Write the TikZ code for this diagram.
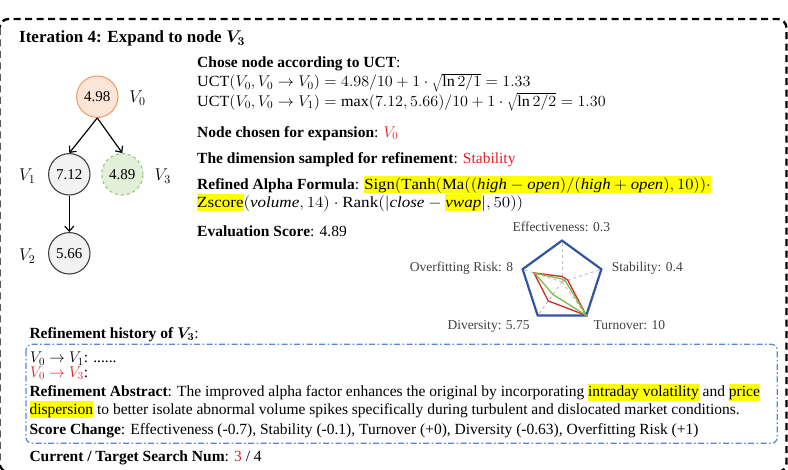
\RequirePackage{fix-cm}
\documentclass[tikz,border=0pt]{standalone}
\usepackage{fontspec}
\usepackage{graphicx}
\setmainfont{Liberation Serif}
\usetikzlibrary{arrows.meta}
\definecolor{hlred}{RGB}{232,32,38}
\definecolor{orfill}{RGB}{251,229,214}
\definecolor{ordraw}{RGB}{240,160,110}
\definecolor{grfill}{RGB}{226,240,217}
\definecolor{grdraw}{RGB}{150,200,120}
\definecolor{gyfill}{RGB}{242,242,242}
\definecolor{gydraw}{RGB}{64,64,64}
\definecolor{pentblue}{RGB}{47,85,164}
\definecolor{polyred}{RGB}{214,39,40}
\definecolor{polygreen}{RGB}{122,190,70}
\definecolor{boxblue}{RGB}{90,135,214}
\definecolor{labgray}{RGB}{64,64,64}
\definecolor{hlyellow}{RGB}{255,255,0}
\newcommand\yhl[1]{{\setlength{\fboxsep}{0pt}\colorbox{hlyellow}{\rule[-4pt]{0pt}{17pt}#1}}}
\tikzset{
  txt/.style={anchor=base west, inner sep=0pt, font=\fontsize{15.5}{18.5}\selectfont},
  rlab/.style={inner sep=0pt, text=labgray, font=\fontsize{13.5}{16}\selectfont},
  tnode/.style={circle, minimum size=41.4pt, inner sep=0pt, line width=1.1pt, font=\fontsize{15}{18}\selectfont},
  vlab/.style={inner sep=0pt, font=\fontsize{17}{20}\selectfont},
  tedge/.style={line width=1.2pt, -{Straight Barb[length=5pt,width=9pt]}},
}
\begin{document}
\begin{tikzpicture}[x=1pt,y=-1pt]
\useasboundingbox (0,0) rectangle (788,470);
\clip (0,0) rectangle (788,470);
% outer border
\draw[line width=2.3pt, dash pattern=on 7pt off 4.5pt, rounded corners=9pt] (-0.5,19) rectangle (786.5,472);
% title
\node[txt, font=\fontsize{17}{20}\selectfont\bfseries] (title) at (19,43) {Iteration 4: Expand to node {\boldmath$V_3$}};
% tree
\node[tnode, fill=orfill, draw=ordraw] (v0) at (97.3,96.7) {4.98};
\node[tnode, fill=gyfill, draw=gydraw] (v1) at (69.3,174.3) {7.12};
\node[tnode, fill=grfill, draw=grdraw, dashed] (v3) at (122.3,174.3) {4.89};
\node[tnode, fill=gyfill, draw=gydraw] (v2) at (69.3,253.3) {5.66};
\node[vlab] (l0) at (137.5,98) {$V_0$};
\node[vlab] (l1) at (27.3,176) {$V_1$};
\node[vlab] (l3) at (162.8,176) {$V_3$};
\node[vlab] (l2) at (27.3,256) {$V_2$};
\draw[tedge] (v0.south) -- (v1.north);
\draw[tedge] (v0.south) -- (v3.north);
\draw[tedge] (v1.south) -- (v2.north);
% right text
\node[txt] (t1) at (197,67.5) {\textbf{Chose node according to UCT}:};
\node[txt] (t2) at (197,87) {\scalebox{1.04}[1]{$\mathrm{UCT}(V_0, V_0\rightarrow V_0)=4.98/10+1\cdot\sqrt{\ln 2/1}=1.33$}};
\node[txt] (t3) at (197,106.5) {\scalebox{1.04}[1]{$\mathrm{UCT}(V_0, V_0\rightarrow V_1)=\max(7.12, 5.66)/10+1\cdot\sqrt{\ln 2/2}=1.30$}};
\node[txt] (t4) at (197,137.5) {\textbf{Node chosen for expansion}: \textcolor{hlred}{$V_0$}};
\node[txt] (t5) at (197,163.5) {\textbf{The dimension sampled for refinement}: \textcolor{hlred}{Stability}};
\node[txt] (t6) at (197,189.5) {\textbf{Refined Alpha Formula}: \scalebox{1.08}[1]{\yhl{$\mathrm{Sign}(\mathrm{Tanh}(\mathrm{Ma}((\mathit{high}-\mathit{open})/(\mathit{high}+\mathit{open}),10))\cdot$}}};
\node[txt] (t7) at (197,207.5) {\scalebox{1.1}[1]{\yhl{$\mathrm{Zscore}$}$(\mathit{volume},14)\cdot\mathrm{Rank}(|\mathit{close}-{}$\yhl{$\mathit{vwap}$}$|,50))$}};
\node[txt] (t8) at (197,237) {\textbf{Evaluation Score}: 4.89};
% radar
\begin{scope}[shift={(562,282)}, yscale=-1]
  \foreach \a in {90,18,-54,-126,162}
    \draw[gray!50, dashed, line width=1pt] (0,0) -- (\a:41.4);
  \draw[pentblue, line width=2.2pt, line join=miter] (90:41.4) -- (18:41.4) -- (-54:41.4) -- (-126:41.4) -- (162:41.4) -- cycle;
  \draw[polyred, line width=1.3pt] (90:5.5) -- (18:6) -- (-54:41.4) -- (-126:23.4) -- (162:29.5) -- cycle;
  \draw[polygreen, line width=1.3pt] (90:3) -- (18:3.5) -- (-54:41.4) -- (-126:15.4) -- (162:28.7) -- cycle;
\end{scope}
\node[rlab, anchor=base] (re) at (561.3,231.5) {Effectiveness: 0.3};
\node[rlab, anchor=base east] (ro) at (513.3,272) {Overfitting Risk: 8};
\node[rlab, anchor=base west] (rs) at (611.7,272) {Stability: 0.4};
\node[rlab, anchor=base west] (rd) at (447.3,330) {Diversity: 5.75};
\node[rlab, anchor=base west] (rt) at (593.3,330) {Turnover: 10};
% bottom
\node[txt] (h1) at (29.3,338.3) {\textbf{Refinement history of {\boldmath$V_3$}}:};
\draw[boxblue, line width=1.2pt, dash pattern=on 6pt off 2.5pt on 1.5pt off 2.5pt, rounded corners=6pt] (26,344.3) rectangle (777.3,443.3);
\node[txt] (b1) at (30,362.7) {$V_0\rightarrow V_1$: ......};
\node[txt] (b2) at (30,377.5) {\textcolor{hlred}{$V_0\rightarrow V_3$}:};
\node[txt] (b3) at (29.3,396.7) {\textbf{Refinement Abstract}: The improved alpha factor enhances the original by incorporating \yhl{intraday volatility} and \yhl{price}};
\node[txt] (b4) at (29.3,414.5) {\yhl{dispersion} to better isolate abnormal volume spikes specifically during turbulent and dislocated market conditions.};
\node[txt] (b5) at (29.3,434.3) {\textbf{Score Change}: Effectiveness (-0.7), Stability (-0.1), Turnover (+0), Diversity (-0.63), Overfitting Risk (+1)};
\node[txt] (b6) at (29.3,462) {\textbf{Current / Target Search Num}: \textcolor{hlred}{3} / 4};
\end{tikzpicture}
\end{document}
